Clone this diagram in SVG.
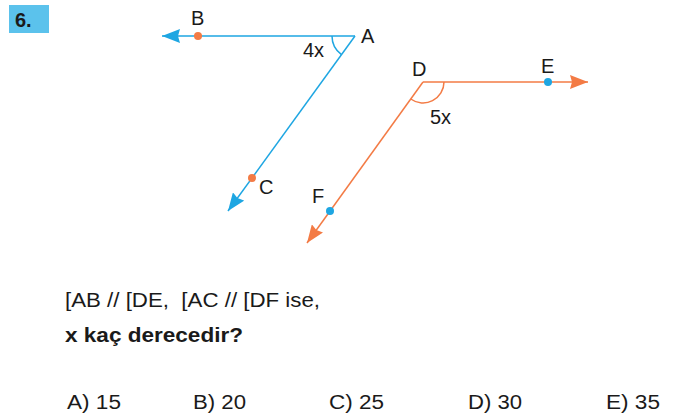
<svg xmlns="http://www.w3.org/2000/svg" width="676" height="417" viewBox="0 0 676 417">
<style>
.lbl{font-family:"Liberation Sans",Arial,sans-serif;font-size:20px;fill:#1a1a1a}
.txt{font-family:"Liberation Sans",Arial,sans-serif;font-size:20px;fill:#1a1a1a}
.blue{stroke:#1EA6E2;stroke-width:1.5;fill:none}
.orange{stroke:#F37B45;stroke-width:1.5;fill:none}
</style>
<defs>
<marker id="arrB" viewBox="0 0 18 14" refX="18" refY="7" markerWidth="18" markerHeight="14" markerUnits="userSpaceOnUse" orient="auto">
<path d="M0,0 L18,7 L0,14 L2,7 Z" fill="#1EA6E2"/>
</marker>
<marker id="arrO" viewBox="0 0 18 14" refX="18" refY="7" markerWidth="18" markerHeight="14" markerUnits="userSpaceOnUse" orient="auto">
<path d="M0,0 L18,7 L0,14 L2,7 Z" fill="#F37B45"/>
</marker>
</defs>
<rect width="676" height="417" fill="#ffffff"/>
<g id="number">
<rect x="9" y="5" width="40" height="28" fill="#5BC2EC"/>
<text x="15" y="27" font-family="Liberation Sans,Arial,sans-serif" font-size="20" font-weight="bold" fill="#1a1a1a">6.</text>
</g>
<g id="connectors">
<line class="blue" x1="355" y1="36" x2="162" y2="36" marker-end="url(#arrB)"/>
<line class="blue" x1="355" y1="36" x2="228" y2="211" marker-end="url(#arrB)"/>
<line class="orange" x1="423" y1="82" x2="588" y2="82" marker-end="url(#arrO)"/>
<line class="orange" x1="423" y1="82" x2="307" y2="243" marker-end="url(#arrO)"/>
<path class="blue" d="M332,36 A23,23 0 0 0 341.5,54.6"/>
<path class="orange" d="M444,82 A21,21 0 0 1 410.7,99"/>
</g>
<g id="A"><text class="lbl" x="361" y="43">A</text></g>
<g id="B"><circle cx="198" cy="36" r="4" fill="#F37B45"/><text class="lbl" x="191" y="25">B</text></g>
<g id="C"><circle cx="252" cy="178" r="4" fill="#F37B45"/><text class="lbl" x="259" y="194">C</text></g>
<g id="D"><text class="lbl" x="412" y="76">D</text></g>
<g id="E"><circle cx="548" cy="82" r="4" fill="#1EA6E2"/><text class="lbl" x="541" y="73">E</text></g>
<g id="F"><circle cx="330" cy="211" r="4" fill="#1EA6E2"/><text class="lbl" x="312" y="203">F</text></g>
<g id="angles">
<text class="lbl" x="303" y="57">4x</text>
<text class="lbl" x="430" y="124">5x</text>
</g>
<g id="question">
<text class="txt" x="65" y="307" xml:space="preserve" textLength="255" lengthAdjust="spacingAndGlyphs">[AB // [DE,  [AC // [DF ise,</text>
<text class="txt" x="65" y="342" font-weight="bold" textLength="178" lengthAdjust="spacingAndGlyphs">x kaç derecedir?</text>
</g>
<g id="options">
<text class="txt" x="67" y="409" textLength="54" lengthAdjust="spacingAndGlyphs">A) 15</text>
<text class="txt" x="193" y="409" textLength="53" lengthAdjust="spacingAndGlyphs">B) 20</text>
<text class="txt" x="329" y="409" textLength="55" lengthAdjust="spacingAndGlyphs">C) 25</text>
<text class="txt" x="468" y="409" textLength="54" lengthAdjust="spacingAndGlyphs">D) 30</text>
<text class="txt" x="606" y="409" textLength="54" lengthAdjust="spacingAndGlyphs">E) 35</text>
</g>
</svg>
